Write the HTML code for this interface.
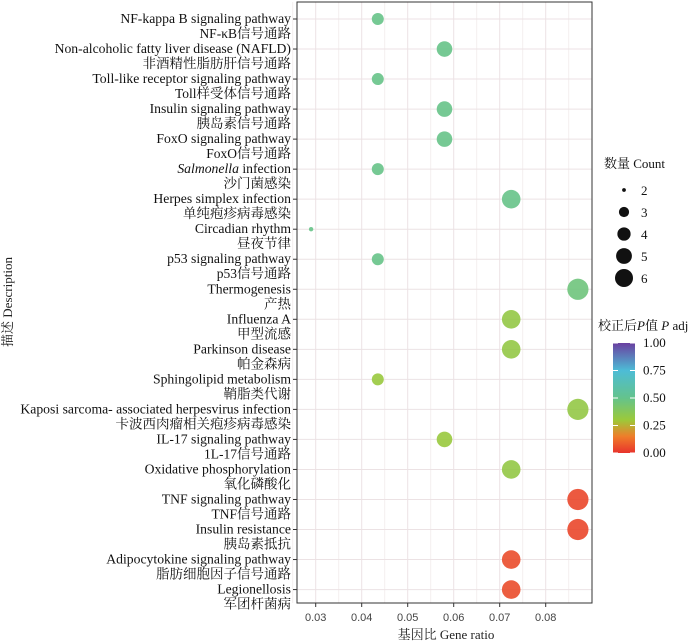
<!DOCTYPE html>
<html><head><meta charset="utf-8"><style>
body{margin:0;background:#fff;}
svg{display:block;font-family:"Liberation Serif","Noto Serif CJK SC",serif;}
</style></head><body>
<svg id="chart" width="700" height="643" viewBox="0 0 700 643">
<defs>
<linearGradient id="pgrad" x1="0" y1="1" x2="0" y2="0">
<stop offset="0" stop-color="#e8332c"/><stop offset="0.15" stop-color="#ef7d2a"/>
<stop offset="0.3" stop-color="#9cc93a"/><stop offset="0.5" stop-color="#64c38c"/>
<stop offset="0.75" stop-color="#4dbcd6"/><stop offset="1" stop-color="#6a3fa0"/>
</linearGradient>
</defs>
<g id="grid"></g><g id="marks"></g><g id="ylab"></g><g id="xax"></g>
<rect x="297" y="2" width="295" height="601" fill="none" stroke="#333" stroke-width="1"/>
<text x="446" y="639" text-anchor="middle" font-size="13" fill="#222">基因比  Gene ratio</text>
<text transform="translate(12,302) rotate(-90)" text-anchor="middle" font-size="13" fill="#222">描述  Description</text>
<g>
<text x="604" y="168" font-size="13" fill="#111">数量  Count</text>
<g id="sleg"></g>
</g>
<g>
<text x="598" y="330" font-size="13" fill="#111">校正后<tspan font-style="italic">P</tspan>值  <tspan font-style="italic">P</tspan> adj</text>
<rect x="613" y="343" width="22" height="110" fill="url(#pgrad)"/>
<g id="cleg"></g>
</g>
</svg>
<script>
const enLabels=["NF-kappa B signaling pathway","Non-alcoholic fatty liver disease (NAFLD)","Toll-like receptor signaling pathway","Insulin signaling pathway","FoxO signaling pathway","Salmonella infection","Herpes simplex infection","Circadian rhythm","p53 signaling pathway","Thermogenesis","Influenza A","Parkinson disease","Sphingolipid metabolism","Kaposi sarcoma- associated herpesvirus infection","IL-17 signaling pathway","Oxidative phosphorylation","TNF signaling pathway","Insulin resistance","Adipocytokine signaling pathway","Legionellosis"];
const zhLabels=["NF-κB信号通路","非酒精性脂肪肝信号通路","Toll样受体信号通路","胰岛素信号通路","FoxO信号通路","沙门菌感染","单纯疱疹病毒感染","昼夜节律","p53信号通路","产热","甲型流感","帕金森病","鞘脂类代谢","卡波西肉瘤相关疱疹病毒感染","1L-17信号通路","氧化磷酸化","TNF信号通路","胰岛素抵抗","脂肪细胞因子信号通路","军团杆菌病"];
const geneRatio=[0.0435,0.058,0.0435,0.058,0.058,0.0435,0.0725,0.029,0.0435,0.087,0.0725,0.0725,0.0435,0.087,0.058,0.0725,0.087,0.087,0.0725,0.0725];
const counts=[3,4,3,4,4,3,5,2,3,6,5,5,3,6,4,5,6,6,5,5];
const padj=[0.49,0.49,0.49,0.49,0.49,0.49,0.49,0.49,0.49,0.46,0.33,0.33,0.31,0.33,0.31,0.33,0.04,0.04,0.05,0.05];
const xTicks=[0.03,0.04,0.05,0.06,0.07,0.08];
const xTickLabels=["0.03","0.04","0.05","0.06","0.07","0.08"];
const sizeLegend=[2,3,4,5,6];
const colorTicks=[1,0.75,0.5,0.25,0];
const colorTickLabels=["1.00","0.75","0.50","0.25","0.00"];
const NS="http://www.w3.org/2000/svg";
const X=v=>315.7+(v-0.03)*4600;
const Y=i=>19+i*30.03;
const R=c=>[0,0,2.2,6,7.8,9.3,10.6][c]||c*1.8;
const stops=[[0,[232,51,44]],[0.15,[239,125,42]],[0.3,[156,201,58]],[0.5,[100,195,140]],[0.75,[77,188,214]],[1,[106,63,160]]];
function col(p){for(let k=1;k<stops.length;k++){if(p<=stops[k][0]){const a=stops[k-1],b=stops[k],t=(p-a[0])/(b[0]-a[0]);return"rgb("+a[1].map((v,j)=>Math.round(v+(b[1][j]-v)*t)).join(",")+")";}}return"rgb(106,63,160)";}
function mk(tag,at,parent){const e=document.createElementNS(NS,tag);for(const k in at)e.setAttribute(k,at[k]);parent.appendChild(e);return e;}
const grid=document.getElementById("grid"),marks=document.getElementById("marks"),ylab=document.getElementById("ylab"),xax=document.getElementById("xax");
for(let i=0;i<xTicks.length;i++){
 let g=mk("line",{x1:X(xTicks[i]),x2:X(xTicks[i]),y1:2,y2:603,stroke:"#ece2e4","stroke-width":1},grid);
 
 
 const mv=xTicks[i]+0.005;
 if(X(mv)<592){let m=mk("line",{x1:X(mv),x2:X(mv),y1:2,y2:603,stroke:"#f4eeef","stroke-width":1},grid);
 
 }
 let tk=mk("line",{x1:X(xTicks[i]),x2:X(xTicks[i]),y1:603,y2:607,stroke:"#333"},xax);
 
 
 let t=mk("text",{x:X(xTicks[i]),y:621,"text-anchor":"middle","font-size":"11","font-family":"Liberation Sans, sans-serif",fill:"#444"},xax);
 t.textContent=xTickLabels[i];
 
 
}
{let m=mk("line",{x1:X(0.025),x2:X(0.025),y1:2,y2:603,stroke:"#f4eeef"},grid);

}
for(let i=0;i<enLabels.length;i++){
 const y=Y(i);
 let g=mk("line",{x1:297,x2:592,y1:y,y2:y,stroke:"#ece2e4"},grid);
 
 
 let tk=mk("line",{x1:293,x2:297,y1:y,y2:y,stroke:"#333"},ylab);
 
 
 let t=mk("text",{x:291,y:y+4,"text-anchor":"end","font-size":"13.7",fill:"#111"},ylab);
 if(i===5){const s=mk("tspan",{"font-style":"italic"},t);s.textContent="Salmonella";const s2=mk("tspan",{},t);s2.textContent=" infection";}
 else t.textContent=enLabels[i];
 
 
 let z=mk("text",{x:291,y:y+19,"text-anchor":"end","font-size":"13.5",fill:"#111"},ylab);
 z.textContent=zhLabels[i];
 
 
 let c=mk("circle",{cx:X(geneRatio[i]),cy:y,r:R(counts[i]),fill:col(padj[i]),"fill-opacity":0.9},marks);
 
 
}
const sleg=document.getElementById("sleg");
sizeLegend.forEach((c,k)=>{const y=190+k*22;
 let d=mk("circle",{cx:624,cy:y,r:R(c)*0.85,fill:"#111"},sleg);
 
 
 let t=mk("text",{x:641,y:y+5,"font-size":"13",fill:"#111"},sleg);t.textContent=String(c);
 
 });
const cleg=document.getElementById("cleg");
colorTicks.forEach((v,k)=>{const y=453-v*110;
 let l=mk("line",{x1:613,x2:618,y1:y,y2:y,stroke:"#fff"},cleg);
 
 
 let l2=mk("line",{x1:630,x2:635,y1:y,y2:y,stroke:"#fff"},cleg);
 
 
 let t=mk("text",{x:643,y:y+4,"font-size":"13",fill:"#111"},cleg);t.textContent=colorTickLabels[k];
 
 });
</script>
</body></html>
